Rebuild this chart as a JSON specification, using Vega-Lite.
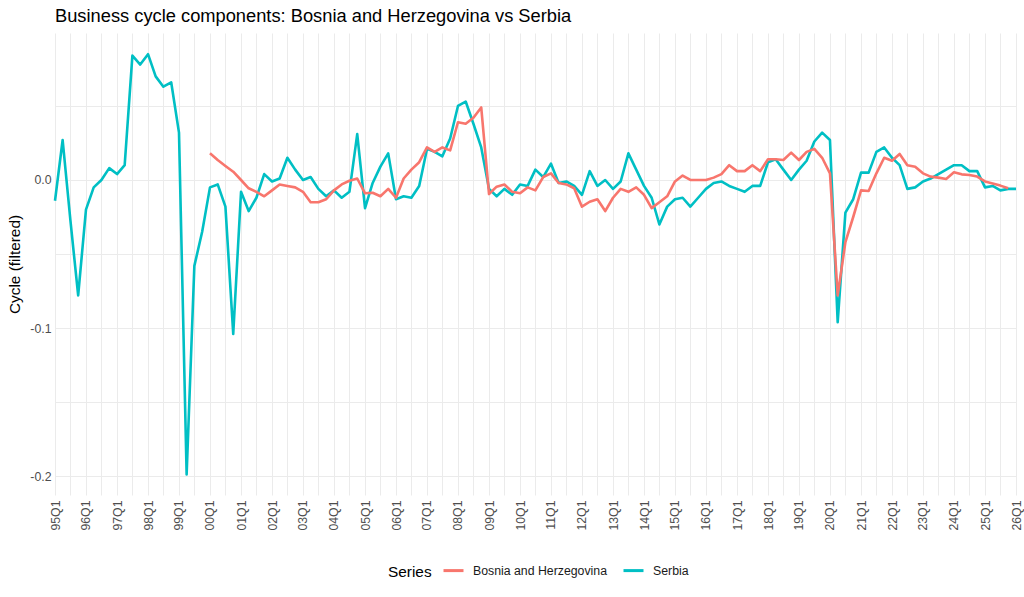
{
  "$schema": "https://vega.github.io/schema/vega-lite/v6.json",
  "width": 961,
  "height": 462,
  "autosize": {"type": "none"},
  "padding": {"left": 55, "top": 33, "right": 8, "bottom": 102},
  "background": "white",
  "title": {
    "text": "Business cycle components: Bosnia and Herzegovina vs Serbia",
    "anchor": "start",
    "frame": "group",
    "font": "Liberation Sans",
    "fontSize": 18.3,
    "fontWeight": "normal",
    "color": "black",
    "baseline": "bottom",
    "offset": 9,
    "dy": 20
  },
  "config": {
    "font": "Liberation Sans",
    "view": {"stroke": null}
  },
  "data": {
    "values": [
      {"date": "1995-01-01", "series": "Serbia", "cycle": -0.014},
      {"date": "1995-04-01", "series": "Serbia", "cycle": 0.027},
      {"date": "1995-07-01", "series": "Serbia", "cycle": -0.027},
      {"date": "1995-10-01", "series": "Serbia", "cycle": -0.078},
      {"date": "1996-01-01", "series": "Serbia", "cycle": -0.020},
      {"date": "1996-04-01", "series": "Serbia", "cycle": -0.005},
      {"date": "1996-07-01", "series": "Serbia", "cycle": 0.000},
      {"date": "1996-10-01", "series": "Serbia", "cycle": 0.008},
      {"date": "1997-01-01", "series": "Serbia", "cycle": 0.004},
      {"date": "1997-04-01", "series": "Serbia", "cycle": 0.010},
      {"date": "1997-07-01", "series": "Serbia", "cycle": 0.084},
      {"date": "1997-10-01", "series": "Serbia", "cycle": 0.078},
      {"date": "1998-01-01", "series": "Serbia", "cycle": 0.085},
      {"date": "1998-04-01", "series": "Serbia", "cycle": 0.070},
      {"date": "1998-07-01", "series": "Serbia", "cycle": 0.063},
      {"date": "1998-10-01", "series": "Serbia", "cycle": 0.066},
      {"date": "1999-01-01", "series": "Serbia", "cycle": 0.032},
      {"date": "1999-04-01", "series": "Serbia", "cycle": -0.199},
      {"date": "1999-07-01", "series": "Serbia", "cycle": -0.058},
      {"date": "1999-10-01", "series": "Serbia", "cycle": -0.035},
      {"date": "2000-01-01", "series": "Serbia", "cycle": -0.005},
      {"date": "2000-04-01", "series": "Serbia", "cycle": -0.003},
      {"date": "2000-07-01", "series": "Serbia", "cycle": -0.018},
      {"date": "2000-10-01", "series": "Serbia", "cycle": -0.104},
      {"date": "2001-01-01", "series": "Serbia", "cycle": -0.008},
      {"date": "2001-04-01", "series": "Serbia", "cycle": -0.021},
      {"date": "2001-07-01", "series": "Serbia", "cycle": -0.012},
      {"date": "2001-10-01", "series": "Serbia", "cycle": 0.004},
      {"date": "2002-01-01", "series": "Serbia", "cycle": -0.001},
      {"date": "2002-04-01", "series": "Serbia", "cycle": 0.001},
      {"date": "2002-07-01", "series": "Serbia", "cycle": 0.015},
      {"date": "2002-10-01", "series": "Serbia", "cycle": 0.007},
      {"date": "2003-01-01", "series": "Serbia", "cycle": 0.000},
      {"date": "2003-04-01", "series": "Serbia", "cycle": 0.002},
      {"date": "2003-07-01", "series": "Serbia", "cycle": -0.006},
      {"date": "2003-10-01", "series": "Serbia", "cycle": -0.011},
      {"date": "2004-01-01", "series": "Serbia", "cycle": -0.007},
      {"date": "2004-04-01", "series": "Serbia", "cycle": -0.012},
      {"date": "2004-07-01", "series": "Serbia", "cycle": -0.008},
      {"date": "2004-10-01", "series": "Serbia", "cycle": 0.031},
      {"date": "2005-01-01", "series": "Serbia", "cycle": -0.019},
      {"date": "2005-04-01", "series": "Serbia", "cycle": -0.002},
      {"date": "2005-07-01", "series": "Serbia", "cycle": 0.009},
      {"date": "2005-10-01", "series": "Serbia", "cycle": 0.018},
      {"date": "2006-01-01", "series": "Serbia", "cycle": -0.013},
      {"date": "2006-04-01", "series": "Serbia", "cycle": -0.011},
      {"date": "2006-07-01", "series": "Serbia", "cycle": -0.012},
      {"date": "2006-10-01", "series": "Serbia", "cycle": -0.004},
      {"date": "2007-01-01", "series": "Serbia", "cycle": 0.021},
      {"date": "2007-04-01", "series": "Serbia", "cycle": 0.019},
      {"date": "2007-07-01", "series": "Serbia", "cycle": 0.016},
      {"date": "2007-10-01", "series": "Serbia", "cycle": 0.028},
      {"date": "2008-01-01", "series": "Serbia", "cycle": 0.050},
      {"date": "2008-04-01", "series": "Serbia", "cycle": 0.053},
      {"date": "2008-07-01", "series": "Serbia", "cycle": 0.038},
      {"date": "2008-10-01", "series": "Serbia", "cycle": 0.022},
      {"date": "2009-01-01", "series": "Serbia", "cycle": -0.006},
      {"date": "2009-04-01", "series": "Serbia", "cycle": -0.011},
      {"date": "2009-07-01", "series": "Serbia", "cycle": -0.006},
      {"date": "2009-10-01", "series": "Serbia", "cycle": -0.010},
      {"date": "2010-01-01", "series": "Serbia", "cycle": -0.003},
      {"date": "2010-04-01", "series": "Serbia", "cycle": -0.004},
      {"date": "2010-07-01", "series": "Serbia", "cycle": 0.007},
      {"date": "2010-10-01", "series": "Serbia", "cycle": 0.002},
      {"date": "2011-01-01", "series": "Serbia", "cycle": 0.011},
      {"date": "2011-04-01", "series": "Serbia", "cycle": -0.002},
      {"date": "2011-07-01", "series": "Serbia", "cycle": -0.001},
      {"date": "2011-10-01", "series": "Serbia", "cycle": -0.004},
      {"date": "2012-01-01", "series": "Serbia", "cycle": -0.010},
      {"date": "2012-04-01", "series": "Serbia", "cycle": 0.006},
      {"date": "2012-07-01", "series": "Serbia", "cycle": -0.004},
      {"date": "2012-10-01", "series": "Serbia", "cycle": 0.000},
      {"date": "2013-01-01", "series": "Serbia", "cycle": -0.006},
      {"date": "2013-04-01", "series": "Serbia", "cycle": -0.001},
      {"date": "2013-07-01", "series": "Serbia", "cycle": 0.018},
      {"date": "2013-10-01", "series": "Serbia", "cycle": 0.007},
      {"date": "2014-01-01", "series": "Serbia", "cycle": -0.004},
      {"date": "2014-04-01", "series": "Serbia", "cycle": -0.012},
      {"date": "2014-07-01", "series": "Serbia", "cycle": -0.030},
      {"date": "2014-10-01", "series": "Serbia", "cycle": -0.018},
      {"date": "2015-01-01", "series": "Serbia", "cycle": -0.013},
      {"date": "2015-04-01", "series": "Serbia", "cycle": -0.012},
      {"date": "2015-07-01", "series": "Serbia", "cycle": -0.018},
      {"date": "2015-10-01", "series": "Serbia", "cycle": -0.012},
      {"date": "2016-01-01", "series": "Serbia", "cycle": -0.006},
      {"date": "2016-04-01", "series": "Serbia", "cycle": -0.002},
      {"date": "2016-07-01", "series": "Serbia", "cycle": -0.001},
      {"date": "2016-10-01", "series": "Serbia", "cycle": -0.004},
      {"date": "2017-01-01", "series": "Serbia", "cycle": -0.006},
      {"date": "2017-04-01", "series": "Serbia", "cycle": -0.008},
      {"date": "2017-07-01", "series": "Serbia", "cycle": -0.004},
      {"date": "2017-10-01", "series": "Serbia", "cycle": -0.004},
      {"date": "2018-01-01", "series": "Serbia", "cycle": 0.012},
      {"date": "2018-04-01", "series": "Serbia", "cycle": 0.014},
      {"date": "2018-07-01", "series": "Serbia", "cycle": 0.007},
      {"date": "2018-10-01", "series": "Serbia", "cycle": 0.000},
      {"date": "2019-01-01", "series": "Serbia", "cycle": 0.007},
      {"date": "2019-04-01", "series": "Serbia", "cycle": 0.013},
      {"date": "2019-07-01", "series": "Serbia", "cycle": 0.026},
      {"date": "2019-10-01", "series": "Serbia", "cycle": 0.032},
      {"date": "2020-01-01", "series": "Serbia", "cycle": 0.027},
      {"date": "2020-04-01", "series": "Serbia", "cycle": -0.096},
      {"date": "2020-07-01", "series": "Serbia", "cycle": -0.022},
      {"date": "2020-10-01", "series": "Serbia", "cycle": -0.013},
      {"date": "2021-01-01", "series": "Serbia", "cycle": 0.005},
      {"date": "2021-04-01", "series": "Serbia", "cycle": 0.005},
      {"date": "2021-07-01", "series": "Serbia", "cycle": 0.019},
      {"date": "2021-10-01", "series": "Serbia", "cycle": 0.022},
      {"date": "2022-01-01", "series": "Serbia", "cycle": 0.015},
      {"date": "2022-04-01", "series": "Serbia", "cycle": 0.010},
      {"date": "2022-07-01", "series": "Serbia", "cycle": -0.006},
      {"date": "2022-10-01", "series": "Serbia", "cycle": -0.005},
      {"date": "2023-01-01", "series": "Serbia", "cycle": -0.001},
      {"date": "2023-04-01", "series": "Serbia", "cycle": 0.001},
      {"date": "2023-07-01", "series": "Serbia", "cycle": 0.004},
      {"date": "2023-10-01", "series": "Serbia", "cycle": 0.007},
      {"date": "2024-01-01", "series": "Serbia", "cycle": 0.010},
      {"date": "2024-04-01", "series": "Serbia", "cycle": 0.010},
      {"date": "2024-07-01", "series": "Serbia", "cycle": 0.006},
      {"date": "2024-10-01", "series": "Serbia", "cycle": 0.006},
      {"date": "2025-01-01", "series": "Serbia", "cycle": -0.005},
      {"date": "2025-04-01", "series": "Serbia", "cycle": -0.004},
      {"date": "2025-07-01", "series": "Serbia", "cycle": -0.007},
      {"date": "2025-10-01", "series": "Serbia", "cycle": -0.006},
      {"date": "2026-01-01", "series": "Serbia", "cycle": -0.006},
      {"date": "2000-01-01", "series": "Bosnia and Herzegovina", "cycle": 0.018},
      {"date": "2000-04-01", "series": "Bosnia and Herzegovina", "cycle": 0.0135},
      {"date": "2000-07-01", "series": "Bosnia and Herzegovina", "cycle": 0.0095},
      {"date": "2000-10-01", "series": "Bosnia and Herzegovina", "cycle": 0.0056},
      {"date": "2001-01-01", "series": "Bosnia and Herzegovina", "cycle": 0.000},
      {"date": "2001-04-01", "series": "Bosnia and Herzegovina", "cycle": -0.0056},
      {"date": "2001-07-01", "series": "Bosnia and Herzegovina", "cycle": -0.008},
      {"date": "2001-10-01", "series": "Bosnia and Herzegovina", "cycle": -0.011},
      {"date": "2002-01-01", "series": "Bosnia and Herzegovina", "cycle": -0.007},
      {"date": "2002-04-01", "series": "Bosnia and Herzegovina", "cycle": -0.003},
      {"date": "2002-07-01", "series": "Bosnia and Herzegovina", "cycle": -0.004},
      {"date": "2002-10-01", "series": "Bosnia and Herzegovina", "cycle": -0.005},
      {"date": "2003-01-01", "series": "Bosnia and Herzegovina", "cycle": -0.008},
      {"date": "2003-04-01", "series": "Bosnia and Herzegovina", "cycle": -0.015},
      {"date": "2003-07-01", "series": "Bosnia and Herzegovina", "cycle": -0.015},
      {"date": "2003-10-01", "series": "Bosnia and Herzegovina", "cycle": -0.013},
      {"date": "2004-01-01", "series": "Bosnia and Herzegovina", "cycle": -0.007},
      {"date": "2004-04-01", "series": "Bosnia and Herzegovina", "cycle": -0.003},
      {"date": "2004-07-01", "series": "Bosnia and Herzegovina", "cycle": -0.0005},
      {"date": "2004-10-01", "series": "Bosnia and Herzegovina", "cycle": 0.001},
      {"date": "2005-01-01", "series": "Bosnia and Herzegovina", "cycle": -0.009},
      {"date": "2005-04-01", "series": "Bosnia and Herzegovina", "cycle": -0.0086},
      {"date": "2005-07-01", "series": "Bosnia and Herzegovina", "cycle": -0.011},
      {"date": "2005-10-01", "series": "Bosnia and Herzegovina", "cycle": -0.006},
      {"date": "2006-01-01", "series": "Bosnia and Herzegovina", "cycle": -0.012},
      {"date": "2006-04-01", "series": "Bosnia and Herzegovina", "cycle": 0.001},
      {"date": "2006-07-01", "series": "Bosnia and Herzegovina", "cycle": 0.007},
      {"date": "2006-10-01", "series": "Bosnia and Herzegovina", "cycle": 0.012},
      {"date": "2007-01-01", "series": "Bosnia and Herzegovina", "cycle": 0.022},
      {"date": "2007-04-01", "series": "Bosnia and Herzegovina", "cycle": 0.019},
      {"date": "2007-07-01", "series": "Bosnia and Herzegovina", "cycle": 0.022},
      {"date": "2007-10-01", "series": "Bosnia and Herzegovina", "cycle": 0.020},
      {"date": "2008-01-01", "series": "Bosnia and Herzegovina", "cycle": 0.039},
      {"date": "2008-04-01", "series": "Bosnia and Herzegovina", "cycle": 0.038},
      {"date": "2008-07-01", "series": "Bosnia and Herzegovina", "cycle": 0.042},
      {"date": "2008-10-01", "series": "Bosnia and Herzegovina", "cycle": 0.049},
      {"date": "2009-01-01", "series": "Bosnia and Herzegovina", "cycle": -0.0095},
      {"date": "2009-04-01", "series": "Bosnia and Herzegovina", "cycle": -0.0045},
      {"date": "2009-07-01", "series": "Bosnia and Herzegovina", "cycle": -0.003},
      {"date": "2009-10-01", "series": "Bosnia and Herzegovina", "cycle": -0.008},
      {"date": "2010-01-01", "series": "Bosnia and Herzegovina", "cycle": -0.009},
      {"date": "2010-04-01", "series": "Bosnia and Herzegovina", "cycle": -0.005},
      {"date": "2010-07-01", "series": "Bosnia and Herzegovina", "cycle": -0.007},
      {"date": "2010-10-01", "series": "Bosnia and Herzegovina", "cycle": 0.002},
      {"date": "2011-01-01", "series": "Bosnia and Herzegovina", "cycle": 0.0045},
      {"date": "2011-04-01", "series": "Bosnia and Herzegovina", "cycle": -0.002},
      {"date": "2011-07-01", "series": "Bosnia and Herzegovina", "cycle": -0.003},
      {"date": "2011-10-01", "series": "Bosnia and Herzegovina", "cycle": -0.0056},
      {"date": "2012-01-01", "series": "Bosnia and Herzegovina", "cycle": -0.018},
      {"date": "2012-04-01", "series": "Bosnia and Herzegovina", "cycle": -0.0147},
      {"date": "2012-07-01", "series": "Bosnia and Herzegovina", "cycle": -0.013},
      {"date": "2012-10-01", "series": "Bosnia and Herzegovina", "cycle": -0.021},
      {"date": "2013-01-01", "series": "Bosnia and Herzegovina", "cycle": -0.012},
      {"date": "2013-04-01", "series": "Bosnia and Herzegovina", "cycle": -0.006},
      {"date": "2013-07-01", "series": "Bosnia and Herzegovina", "cycle": -0.008},
      {"date": "2013-10-01", "series": "Bosnia and Herzegovina", "cycle": -0.005},
      {"date": "2014-01-01", "series": "Bosnia and Herzegovina", "cycle": -0.010},
      {"date": "2014-04-01", "series": "Bosnia and Herzegovina", "cycle": -0.019},
      {"date": "2014-07-01", "series": "Bosnia and Herzegovina", "cycle": -0.015},
      {"date": "2014-10-01", "series": "Bosnia and Herzegovina", "cycle": -0.011},
      {"date": "2015-01-01", "series": "Bosnia and Herzegovina", "cycle": -0.001},
      {"date": "2015-04-01", "series": "Bosnia and Herzegovina", "cycle": 0.003},
      {"date": "2015-07-01", "series": "Bosnia and Herzegovina", "cycle": 0.000},
      {"date": "2015-10-01", "series": "Bosnia and Herzegovina", "cycle": 0.000},
      {"date": "2016-01-01", "series": "Bosnia and Herzegovina", "cycle": 0.000},
      {"date": "2016-04-01", "series": "Bosnia and Herzegovina", "cycle": 0.0016},
      {"date": "2016-07-01", "series": "Bosnia and Herzegovina", "cycle": 0.004},
      {"date": "2016-10-01", "series": "Bosnia and Herzegovina", "cycle": 0.010},
      {"date": "2017-01-01", "series": "Bosnia and Herzegovina", "cycle": 0.006},
      {"date": "2017-04-01", "series": "Bosnia and Herzegovina", "cycle": 0.006},
      {"date": "2017-07-01", "series": "Bosnia and Herzegovina", "cycle": 0.010},
      {"date": "2017-10-01", "series": "Bosnia and Herzegovina", "cycle": 0.006},
      {"date": "2018-01-01", "series": "Bosnia and Herzegovina", "cycle": 0.014},
      {"date": "2018-04-01", "series": "Bosnia and Herzegovina", "cycle": 0.014},
      {"date": "2018-07-01", "series": "Bosnia and Herzegovina", "cycle": 0.0135},
      {"date": "2018-10-01", "series": "Bosnia and Herzegovina", "cycle": 0.0185},
      {"date": "2019-01-01", "series": "Bosnia and Herzegovina", "cycle": 0.0135},
      {"date": "2019-04-01", "series": "Bosnia and Herzegovina", "cycle": 0.019},
      {"date": "2019-07-01", "series": "Bosnia and Herzegovina", "cycle": 0.021},
      {"date": "2019-10-01", "series": "Bosnia and Herzegovina", "cycle": 0.015},
      {"date": "2020-01-01", "series": "Bosnia and Herzegovina", "cycle": 0.0045},
      {"date": "2020-04-01", "series": "Bosnia and Herzegovina", "cycle": -0.078},
      {"date": "2020-07-01", "series": "Bosnia and Herzegovina", "cycle": -0.042},
      {"date": "2020-10-01", "series": "Bosnia and Herzegovina", "cycle": -0.025},
      {"date": "2021-01-01", "series": "Bosnia and Herzegovina", "cycle": -0.007},
      {"date": "2021-04-01", "series": "Bosnia and Herzegovina", "cycle": -0.0074},
      {"date": "2021-07-01", "series": "Bosnia and Herzegovina", "cycle": 0.0045},
      {"date": "2021-10-01", "series": "Bosnia and Herzegovina", "cycle": 0.015},
      {"date": "2022-01-01", "series": "Bosnia and Herzegovina", "cycle": 0.013},
      {"date": "2022-04-01", "series": "Bosnia and Herzegovina", "cycle": 0.0176},
      {"date": "2022-07-01", "series": "Bosnia and Herzegovina", "cycle": 0.010},
      {"date": "2022-10-01", "series": "Bosnia and Herzegovina", "cycle": 0.009},
      {"date": "2023-01-01", "series": "Bosnia and Herzegovina", "cycle": 0.0045},
      {"date": "2023-04-01", "series": "Bosnia and Herzegovina", "cycle": 0.0023},
      {"date": "2023-07-01", "series": "Bosnia and Herzegovina", "cycle": 0.0016},
      {"date": "2023-10-01", "series": "Bosnia and Herzegovina", "cycle": 0.0007},
      {"date": "2024-01-01", "series": "Bosnia and Herzegovina", "cycle": 0.0052},
      {"date": "2024-04-01", "series": "Bosnia and Herzegovina", "cycle": 0.0038},
      {"date": "2024-07-01", "series": "Bosnia and Herzegovina", "cycle": 0.0034},
      {"date": "2024-10-01", "series": "Bosnia and Herzegovina", "cycle": 0.0023},
      {"date": "2025-01-01", "series": "Bosnia and Herzegovina", "cycle": -0.001},
      {"date": "2025-04-01", "series": "Bosnia and Herzegovina", "cycle": -0.0023},
      {"date": "2025-07-01", "series": "Bosnia and Herzegovina", "cycle": -0.0038},
      {"date": "2025-10-01", "series": "Bosnia and Herzegovina", "cycle": -0.0056}
    ]
  },
  "mark": {"type": "line", "strokeWidth": 2.6, "strokeJoin": "round"},
  "encoding": {
    "x": {
      "field": "date",
      "type": "temporal",
      "title": null,
      "scale": {
        "type": "utc",
        "domain": [
          {"year": 1995, "month": 1, "date": 1, "utc": true},
          {"year": 2026, "month": 1, "date": 1, "utc": true}
        ]
      },
      "axis": {
        "tickCount": {"interval": "month", "step": 6},
        "labelExpr": "utcmonth(datum.value) == 0 ? utcFormat(datum.value, '%y') + 'Q1' : ''",
        "labelAngle": 270,
        "labelFontSize": 12.3,
        "labelColor": "#4D4D4D",
        "labelPadding": 5,
        "labelOverlap": false,
        "labelFlush": false,
        "ticks": false,
        "domain": false,
        "grid": true,
        "gridColor": "#EBEBEB",
        "gridWidth": 1
      }
    },
    "y": {
      "field": "cycle",
      "type": "quantitative",
      "title": "Cycle (filtered)",
      "scale": {"domain": [-0.2128, 0.0993], "nice": false, "zero": false},
      "axis": {
        "values": [-0.2, -0.15, -0.1, -0.05, 0, 0.05],
        "labelExpr": "datum.value == 0 ? '0.0' : (datum.value == -0.1 || datum.value == -0.2 ? toString(datum.value) : '')",
        "labelFontSize": 12.3,
        "labelColor": "#4D4D4D",
        "labelPadding": 4,
        "ticks": false,
        "domain": false,
        "grid": true,
        "gridColor": "#EBEBEB",
        "gridWidth": 1,
        "titleFontSize": 15.4,
        "titleFontWeight": "normal",
        "titleColor": "black",
        "titlePadding": 7
      }
    },
    "color": {
      "field": "series",
      "type": "nominal",
      "scale": {
        "domain": ["Bosnia and Herzegovina", "Serbia"],
        "range": ["#F8766D", "#00BFC4"]
      },
      "legend": {
        "title": "Series",
        "orient": "none",
        "direction": "horizontal",
        "titleOrient": "left",
        "titleBaseline": "line-top",
        "titleLineHeight": 10,
        "legendX": 333,
        "legendY": 526,
        "titleFontSize": 15.4,
        "titleFontWeight": "normal",
        "titleColor": "black",
        "titlePadding": 10,
        "labelFontSize": 12.3,
        "labelColor": "#1A1A1A",
        "labelOffset": 8,
        "columnPadding": 10,
        "symbolType": "stroke",
        "symbolSize": 400,
        "symbolStrokeWidth": 3
      }
    }
  }
}
